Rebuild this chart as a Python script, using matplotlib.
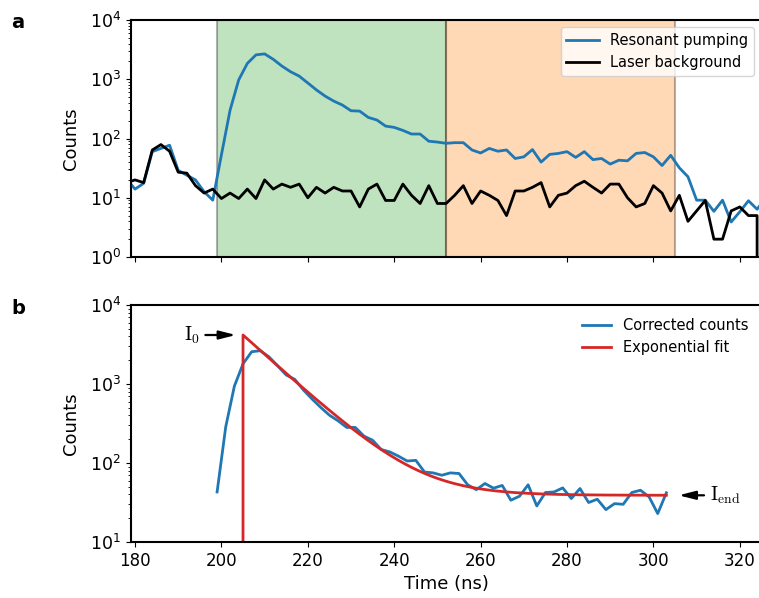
import numpy as np
import matplotlib
matplotlib.use("Agg")
import matplotlib.pyplot as plt
from matplotlib.ticker import LogLocator

# ---- panel a: raw histograms (2 ns bins) ----
time_a = np.arange(178, 328, 2)
resonant = [21, 14, 17.5, 60, 68, 77, 29, 24, 20, 12.6,
            9.1, 53, 300, 975, 1850, 2580, 2680, 2170, 1670, 1340,
            1130, 865, 660, 520, 428, 367, 294, 290, 227, 205,
            162, 154, 137, 119, 119, 90, 87, 83, 85, 85,
            64, 57, 68, 61, 64, 46, 49, 65, 40, 54,
            56, 60, 48, 60, 44, 46, 37, 43, 42, 56,
            58, 49, 35, 52, 32, 22.6, 9.1, 9.1, 5.9, 9.1,
            3.9, 5.8, 8.9, 6.4, 10]
background = [18, 20, 18, 64, 79, 61, 27, 26, 16, 12,
              14, 9.7, 12, 9.7, 14, 9.7, 20, 14, 17, 15,
              17, 10, 15, 12, 15, 13, 13, 7, 14, 17,
              9, 9, 17, 11, 8, 16, 8, 8, 11, 16,
              8, 13, 11, 9, 5, 13, 13, 15, 18, 7,
              11, 12, 16, 19, 15, 12, 17, 17, 10, 7,
              8, 16, 12, 6, 11, 4, 6, 9, 2, 2,
              6, 7, 5, 5, 0]

# integration windows
signal_window = (199, 252)
bg_window = (252, 305)

# ---- panel b: background-corrected counts and fit ----
time_b = np.arange(199, 305, 2)
corrected = [43, 287, 940, 1800, 2560, 2640, 2210, 1700, 1300, 1143,
             837, 644, 505, 403, 342, 282, 282, 219, 194, 148,
             138, 122, 106, 108, 77, 75, 70, 75, 73.6, 53,
             46, 55, 48, 52, 33.8, 38, 53, 28.6, 42.3, 43,
             48.4, 35.5, 47.5, 31.6, 34.8, 25.7, 30.6, 30, 42.3, 45.2,
             37.2, 22.9, 42]

fit_t0 = 205.0
fit_t1 = 303.0
fit_i0 = 4170.0
fit_iend = 39.0
fit_tau = 8.8

x_ticks = [180, 200, 220, 240, 260, 280, 300, 320]

W, H = 759, 598
fig = plt.figure(figsize=(W / 100, H / 100), dpi=100)

left = 131 / W
xlim = (179.07, 325.0)
width = (xlim[1] - xlim[0]) * 4.32 / W
ax_a = fig.add_axes([left, 1 - 257 / H, width, 237 / H])
ax_b = fig.add_axes([left, 1 - 542 / H, width, 237 / H])

blue = "#1f77b4"
red = "#d62728"

# panel a
ax_a.axvspan(*signal_window, facecolor="tab:green", edgecolor="k", alpha=0.3, lw=1.5, zorder=0)
ax_a.axvspan(*bg_window, facecolor="tab:orange", edgecolor="k", alpha=0.3, lw=1.5, zorder=0)
ax_a.plot(time_a, resonant, color=blue, lw=2, label="Resonant pumping")
ax_a.plot(time_a, background, color="k", lw=2, label="Laser background")
ax_a.set_yscale("log")
ax_a.set_ylim(1, 1e4)
ax_a.set_xlim(*xlim)
ax_a.set_xticks(x_ticks)
ax_a.tick_params(labelbottom=False)
ax_a.set_ylabel("Counts", fontsize=13, labelpad=7)
ax_a.legend(loc="upper right", fontsize=10.5, handlelength=2.2)

# panel b
t_fit = np.linspace(fit_t0, fit_t1, 400)
i_fit = fit_iend + (fit_i0 - fit_iend) * np.exp(-(t_fit - fit_t0) / fit_tau)
t_fit = np.concatenate([[fit_t0], t_fit])
i_fit = np.concatenate([[0.0], i_fit])

ax_b.plot(time_b, corrected, color=blue, lw=2, label="Corrected counts")
ax_b.plot(t_fit, i_fit, color=red, lw=2, label="Exponential fit")
ax_b.set_yscale("log")
ax_b.set_ylim(10, 1e4)
ax_b.set_xlim(*xlim)
ax_b.set_xticks(x_ticks)
ax_b.set_xlabel("Time (ns)", fontsize=13)
ax_b.set_ylabel("Counts", fontsize=13, labelpad=7)
ax_b.legend(loc="upper right", fontsize=10.5, frameon=False)

arrow = dict(arrowstyle="-|>,head_length=0.55,head_width=0.14", color="k",
             lw=1.6, mutation_scale=18)
ax_b.annotate(r"$\mathrm{I}_0$", xy=(204.0, fit_i0), xytext=(195.0, fit_i0),
              ha="right", va="center", fontsize=14, math_fontfamily="cm",
              arrowprops=arrow)
ax_b.annotate(r"$\mathrm{I}_\mathrm{end}$", xy=(305.2, fit_iend), xytext=(313.0, fit_iend),
              ha="left", va="center", fontsize=14, math_fontfamily="cm",
              arrowprops=arrow, annotation_clip=False)

for ax in (ax_a, ax_b):
    ax.tick_params(axis="x", labelsize=12)
    ax.tick_params(axis="y", labelsize=12.5)
    ax.yaxis.set_major_locator(LogLocator(base=10, numticks=10))
    ax.yaxis.set_minor_locator(LogLocator(base=10, subs=np.arange(2, 10), numticks=20))
    for s in ax.spines.values():
        s.set_linewidth(1.5)

fig.text(18 / W, 1 - 22 / H, "a", fontsize=14, fontweight="bold", ha="center", va="center")
fig.text(18 / W, 1 - 308 / H, "b", fontsize=14, fontweight="bold", ha="center", va="center")

fig.savefig("out.png", dpi=100)
